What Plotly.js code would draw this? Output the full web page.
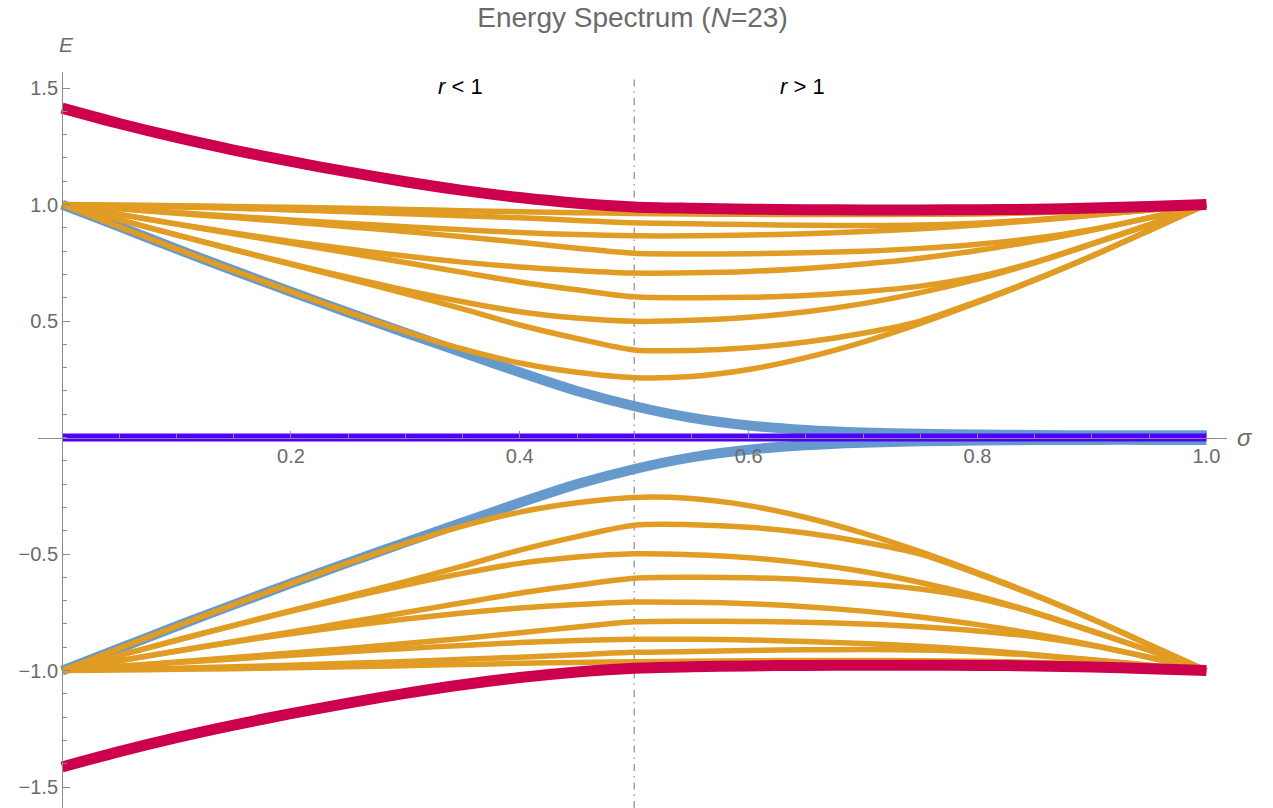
<!DOCTYPE html>
<html>
<head>
<meta charset="utf-8">
<script src="https://cdn.plot.ly/plotly-3.0.1.min.js"></script>
<style>html,body{margin:0;padding:0;background:#fff;}#plot{width:1273px;height:808px;}</style>
</head>
<body>
<div id="plot"></div>
<script>
// sigma grid
const sigma = [0,0.05,0.1,0.15,0.2,0.25,0.3,0.35,0.4,0.45,0.5,0.55,0.6,0.65,0.7,0.75,0.8,0.85,0.9,0.95,1.0];

// upper (positive-energy) levels
const redUp  = [1.414,1.348,1.288,1.234,1.185,1.14,1.098,1.061,1.03,1.006,0.99,0.984,0.98,0.978,0.977,0.977,0.978,0.98,0.985,0.992,1.0];
const o1Up   = [1,0.998,0.995,0.992,0.988,0.984,0.979,0.974,0.969,0.965,0.962,0.96,0.958,0.957,0.957,0.958,0.96,0.965,0.974,0.986,1];
const o2Up   = [1,0.995,0.99,0.984,0.977,0.969,0.961,0.952,0.943,0.932,0.922,0.918,0.914,0.911,0.91,0.912,0.92,0.935,0.955,0.977,1];
const o3Up   = [1,0.983,0.966,0.95,0.934,0.919,0.905,0.892,0.88,0.871,0.866,0.866,0.869,0.875,0.884,0.896,0.912,0.932,0.954,0.977,1];
const o4Up   = [1,0.982,0.963,0.944,0.925,0.905,0.884,0.862,0.838,0.813,0.791,0.788,0.789,0.793,0.8,0.812,0.83,0.855,0.893,0.944,1];
const o5Up   = [1,0.958,0.917,0.878,0.842,0.809,0.779,0.753,0.732,0.717,0.706,0.707,0.713,0.726,0.745,0.77,0.803,0.843,0.89,0.943,1];
const o6Up   = [1,0.958,0.916,0.875,0.834,0.793,0.751,0.709,0.668,0.634,0.604,0.6,0.602,0.61,0.626,0.65,0.69,0.753,0.832,0.914,1];
const o7Up   = [1,0.935,0.87,0.807,0.746,0.688,0.633,0.583,0.54,0.513,0.499,0.503,0.516,0.54,0.575,0.622,0.68,0.75,0.83,0.913,1];
const o8Up   = [1,0.935,0.87,0.806,0.743,0.681,0.618,0.552,0.483,0.425,0.376,0.374,0.385,0.41,0.448,0.5,0.585,0.678,0.78,0.89,1];
const o9Up   = [1,0.905,0.81,0.717,0.626,0.538,0.455,0.38,0.32,0.28,0.257,0.262,0.292,0.343,0.41,0.49,0.58,0.675,0.778,0.888,1];
const blueUp = [1,0.905,0.81,0.717,0.626,0.537,0.45,0.365,0.28,0.2,0.135,0.085,0.052,0.033,0.022,0.016,0.013,0.011,0.01,0.01,0.01];

// lower (negative-energy) levels
const redDn  = [-1.414,-1.348,-1.288,-1.234,-1.185,-1.14,-1.098,-1.061,-1.03,-1.006,-0.99,-0.984,-0.98,-0.978,-0.977,-0.977,-0.978,-0.98,-0.985,-0.992,-1.0];
const o1Dn   = [-1,-0.998,-0.995,-0.992,-0.988,-0.984,-0.979,-0.974,-0.969,-0.965,-0.962,-0.96,-0.958,-0.957,-0.957,-0.958,-0.96,-0.965,-0.974,-0.986,-1];
const o2Dn   = [-1,-0.995,-0.99,-0.984,-0.977,-0.969,-0.961,-0.952,-0.943,-0.932,-0.922,-0.918,-0.914,-0.911,-0.91,-0.912,-0.92,-0.935,-0.955,-0.977,-1];
const o3Dn   = [-1,-0.983,-0.966,-0.95,-0.934,-0.919,-0.905,-0.892,-0.88,-0.871,-0.866,-0.866,-0.869,-0.875,-0.884,-0.896,-0.912,-0.932,-0.954,-0.977,-1];
const o4Dn   = [-1,-0.982,-0.963,-0.944,-0.925,-0.905,-0.884,-0.862,-0.838,-0.813,-0.791,-0.788,-0.789,-0.793,-0.8,-0.812,-0.83,-0.855,-0.893,-0.944,-1];
const o5Dn   = [-1,-0.958,-0.917,-0.878,-0.842,-0.809,-0.779,-0.753,-0.732,-0.717,-0.706,-0.707,-0.713,-0.726,-0.745,-0.77,-0.803,-0.843,-0.89,-0.943,-1];
const o6Dn   = [-1,-0.958,-0.916,-0.875,-0.834,-0.793,-0.751,-0.709,-0.668,-0.634,-0.604,-0.6,-0.602,-0.61,-0.626,-0.65,-0.69,-0.753,-0.832,-0.914,-1];
const o7Dn   = [-1,-0.935,-0.87,-0.807,-0.746,-0.688,-0.633,-0.583,-0.54,-0.513,-0.499,-0.503,-0.516,-0.54,-0.575,-0.622,-0.68,-0.75,-0.83,-0.913,-1];
const o8Dn   = [-1,-0.935,-0.87,-0.806,-0.743,-0.681,-0.618,-0.552,-0.483,-0.425,-0.376,-0.374,-0.385,-0.41,-0.448,-0.5,-0.585,-0.678,-0.78,-0.89,-1];
const o9Dn   = [-1,-0.905,-0.81,-0.717,-0.626,-0.538,-0.455,-0.38,-0.32,-0.28,-0.257,-0.262,-0.292,-0.343,-0.41,-0.49,-0.58,-0.675,-0.778,-0.888,-1];
const blueDn = [-1,-0.905,-0.81,-0.717,-0.626,-0.537,-0.45,-0.365,-0.28,-0.2,-0.135,-0.085,-0.052,-0.033,-0.022,-0.016,-0.013,-0.011,-0.01,-0.01,-0.01];
const zeroMode = [0,0,0,0,0,0,0,0,0,0,0,0,0,0,0,0,0,0,0,0,0];

const xTickVals = [0.2,0.4,0.6,0.8,1.0];
const xTickText = ['0.2','0.4','0.6','0.8','1.0'];
const yTickVals = [-1.5,-1.0,-0.5,0.5,1.0,1.5];
const yTickText = ['\u22121.5','\u22121.0','\u22120.5','0.5','1.0','1.5'];

const RED = '#CC004C', ORANGE = '#E19C24', BLUE = '#6699CC', PURPLE = '#4F00FF';
function tr(y, color, width) {
  return {x: sigma, y: y, type: 'scatter', mode: 'lines',
          line: {color: color, width: width, shape: 'spline', smoothing: 0.8},
          hoverinfo: 'skip', showlegend: false};
}
const traces = [
  tr(blueUp, BLUE, 10), tr(blueDn, BLUE, 10),
  tr(o9Up, ORANGE, 5.5), tr(o8Up, ORANGE, 5.5), tr(o7Up, ORANGE, 5.5), tr(o6Up, ORANGE, 5.5), tr(o5Up, ORANGE, 5.5),
  tr(o4Up, ORANGE, 5.5), tr(o3Up, ORANGE, 5.5), tr(o2Up, ORANGE, 5.5), tr(o1Up, ORANGE, 5.5),
  tr(o9Dn, ORANGE, 5.5), tr(o8Dn, ORANGE, 5.5), tr(o7Dn, ORANGE, 5.5), tr(o6Dn, ORANGE, 5.5), tr(o5Dn, ORANGE, 5.5),
  tr(o4Dn, ORANGE, 5.5), tr(o3Dn, ORANGE, 5.5), tr(o2Dn, ORANGE, 5.5), tr(o1Dn, ORANGE, 5.5),
  tr(redUp, RED, 11), tr(redDn, RED, 11),
  tr(zeroMode, PURPLE, 8)
];

const GRAY = '#6b6b6b';
const FAM = 'Liberation Sans, Arial, sans-serif';
const tickFont = {family: FAM, size: 20, color: GRAY};
const layout = {
  width: 1273, height: 808,
  margin: {l: 38, r: 46, t: 72, b: 0},
  paper_bgcolor: '#fff', plot_bgcolor: '#fff',
  showlegend: false,
  title: {text: 'Energy Spectrum (<i>N</i>=23)', x: 0.5, xref: 'paper', xanchor: 'center',
          y: 0.979, yref: 'container', yanchor: 'middle',
          font: {family: FAM, size: 28, color: GRAY}},
  xaxis: {range: [-0.021, 1.018], anchor: 'free', position: 0.5033, showgrid: false, zeroline: false,
          showline: true, linecolor: '#8a8a8a', linewidth: 1.2, ticks: 'inside', ticklen: 7, tickcolor: '#8a8a8a',
          tickvals: xTickVals, ticktext: xTickText, tickfont: tickFont, layer: 'above traces',
          minor: {ticks: 'inside', ticklen: 4, tickcolor: '#8a8a8a', dtick: 0.05, tick0: 0}},
  yaxis: {range: [-1.59, 1.569], anchor: 'free', position: 0.0202, showgrid: false, zeroline: false,
          showline: true, linecolor: '#8a8a8a', linewidth: 1.2, ticks: 'inside', ticklen: 7, tickcolor: '#8a8a8a',
          tickvals: yTickVals, ticktext: yTickText, tickfont: tickFont, layer: 'above traces',
          minor: {ticks: 'inside', ticklen: 4, tickcolor: '#8a8a8a', dtick: 0.1, tick0: 0}},
  shapes: [
    {type: 'line', xref: 'x', yref: 'paper', x0: 0.5, x1: 0.5, y0: 0, y1: 0.995,
     line: {color: '#8a8a8a', width: 1.2, dash: '7px,5px,1.5px,5px'}, layer: 'below'}
  ],
  annotations: [
    {text: '<i>E</i>', xref: 'paper', yref: 'paper', x: 0.0202, y: 1.0367, xanchor: 'center', yanchor: 'middle', xshift: 4, showarrow: false,
     font: {family: FAM, size: 21, color: GRAY}},
    {text: '<i>σ</i>', xref: 'paper', yref: 'y', x: 1.0, y: 0, xanchor: 'left', yanchor: 'middle', xshift: 8, showarrow: false,
     font: {family: FAM, size: 24, color: GRAY}},
    {text: '<i>r</i> < 1', xref: 'x', yref: 'y', x: 0.348, y: 1.505, xanchor: 'center', yanchor: 'middle', showarrow: false,
     font: {family: FAM, size: 22, color: '#000'}},
    {text: '<i>r</i> > 1', xref: 'x', yref: 'y', x: 0.647, y: 1.505, xanchor: 'center', yanchor: 'middle', showarrow: false,
     font: {family: FAM, size: 22, color: '#000'}}
  ]
};
Plotly.newPlot('plot', traces, layout, {displayModeBar: false, staticPlot: true});
</script>
</body>
</html>
